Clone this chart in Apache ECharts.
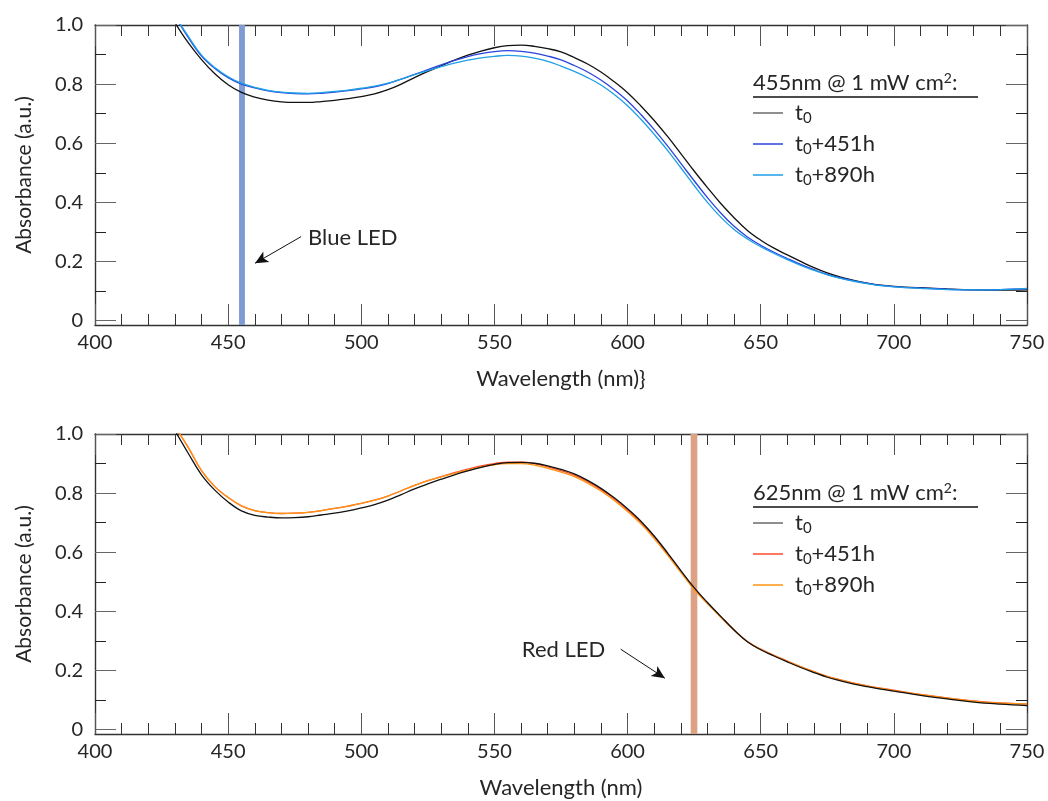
<!DOCTYPE html>
<html>
<head>
<meta charset="utf-8">
<script src="https://cdn.jsdelivr.net/npm/echarts@6/dist/echarts.min.js"></script>
<style>
html,body{margin:0;padding:0;background:#fff;}
#chart{width:1048px;height:801px;}
</style>
</head>
<body>
<div id="chart"></div>
<script>
// ---- data ----
const wavelengths = [430,435,440,445,450,455,460,465,470,475,
  480,485,490,495,500,505,510,515,520,525,
  530,535,540,545,550,555,560,565,570,575,
  580,585,590,595,600,605,610,615,620,625,
  630,635,640,645,650,655,660,665,670,675,
  680,685,690,695,700,710,720,730,740,750];

// Top panel: 455 nm illumination
const blueT0 = [1.008,0.940,0.883,0.835,0.798,0.772,0.756,0.746,0.740,0.738,
  0.738,0.741,0.745,0.751,0.758,0.767,0.781,0.800,0.822,0.843,
  0.862,0.881,0.898,0.912,0.923,0.930,0.932,0.928,0.920,0.909,
  0.890,0.868,0.841,0.808,0.771,0.726,0.677,0.623,0.565,0.506,
  0.450,0.396,0.348,0.305,0.272,0.245,0.222,0.200,0.179,0.161,
  0.147,0.136,0.127,0.120,0.116,0.111,0.107,0.104,0.103,0.104];
const blueT451 = [1.030,0.958,0.895,0.853,0.822,0.800,0.787,0.777,0.771,0.768,
  0.767,0.769,0.773,0.778,0.784,0.791,0.802,0.817,0.833,0.849,
  0.865,0.880,0.893,0.903,0.910,0.913,0.911,0.905,0.895,0.882,
  0.863,0.841,0.814,0.781,0.743,0.697,0.646,0.591,0.532,0.473,
  0.416,0.364,0.319,0.283,0.255,0.231,0.210,0.190,0.172,0.156,
  0.144,0.134,0.126,0.119,0.115,0.110,0.106,0.104,0.105,0.108];
const blueT890 = [1.032,0.962,0.898,0.856,0.825,0.803,0.789,0.779,0.773,0.770,
  0.769,0.771,0.775,0.780,0.786,0.793,0.803,0.817,0.832,0.846,
  0.859,0.871,0.881,0.889,0.894,0.897,0.895,0.888,0.877,0.861,
  0.843,0.822,0.797,0.765,0.727,0.681,0.630,0.576,0.517,0.457,
  0.400,0.350,0.308,0.276,0.250,0.227,0.206,0.187,0.170,0.155,
  0.143,0.133,0.125,0.118,0.114,0.109,0.105,0.104,0.105,0.109];

// Bottom panel: 625 nm illumination
const redT0 = [1.012,0.935,0.862,0.810,0.770,0.740,0.725,0.719,0.716,0.717,
  0.720,0.726,0.732,0.740,0.750,0.761,0.776,0.795,0.814,0.831,
  0.847,0.862,0.875,0.887,0.897,0.903,0.904,0.901,0.892,0.880,
  0.865,0.843,0.816,0.784,0.747,0.705,0.655,0.598,0.538,0.480,
  0.430,0.383,0.337,0.297,0.270,0.249,0.229,0.210,0.193,0.177,
  0.165,0.154,0.145,0.137,0.130,0.116,0.104,0.093,0.086,0.081];
const redT451 = [1.025,0.955,0.876,0.822,0.785,0.757,0.741,0.734,0.731,0.732,
  0.735,0.741,0.748,0.756,0.765,0.776,0.790,0.808,0.826,0.842,
  0.856,0.869,0.881,0.892,0.900,0.905,0.905,0.900,0.889,0.876,
  0.861,0.839,0.812,0.780,0.743,0.701,0.651,0.594,0.535,0.477,
  0.428,0.382,0.337,0.298,0.272,0.251,0.232,0.213,0.196,0.180,
  0.168,0.157,0.148,0.140,0.133,0.119,0.107,0.097,0.090,0.086];
const redT890 = [1.025,0.955,0.876,0.822,0.785,0.757,0.741,0.734,0.731,0.732,
  0.735,0.741,0.748,0.756,0.765,0.776,0.790,0.808,0.826,0.842,
  0.855,0.867,0.878,0.888,0.896,0.900,0.900,0.895,0.884,0.871,
  0.856,0.834,0.807,0.775,0.738,0.696,0.646,0.590,0.532,0.474,
  0.426,0.380,0.336,0.297,0.271,0.250,0.231,0.212,0.195,0.179,
  0.167,0.156,0.147,0.139,0.132,0.118,0.106,0.096,0.089,0.087];

const yMajorTicks = [0, 0.2, 0.4, 0.6, 0.8, 1.0];
const yMinorTicks = [0.1, 0.3, 0.5, 0.7, 0.9];
const xTickInterval = 50;
const ledBlue = [454.1, 456.3];
const ledRed = [623.7, 626.2];

// ---- chart ----
const FONT = 'Lato';
const TXT = '#262626';
const YMIN = -0.015, YMAX = 1.0;
const zip = arr => wavelengths.map((w, i) => [w, arr[i]]);

function xAxes(g, name) {
  const base = {
    type: 'value', gridIndex: g, min: 400, max: 750, interval: xTickInterval,
    axisLine: { show: true, onZero: false, lineStyle: { color: '#333', width: 1.4 } },
    axisTick: { show: true, inside: true, length: 21, lineStyle: { color: '#555', width: 1 } },
    minorTick: { show: true, splitNumber: 5, length: 11, lineStyle: { color: '#333', width: 1 } },
    splitLine: { show: false }, minorSplitLine: { show: false }
  };
  return [
    Object.assign({}, base, {
      position: 'bottom',
      name: name, nameLocation: 'middle', nameGap: 43,
      nameTextStyle: { fontFamily: FONT, fontSize: 22, color: TXT },
      axisLabel: { show: true, margin: 8, fontFamily: FONT, fontSize: 20, color: TXT }
    }),
    Object.assign({}, base, { position: 'top', axisLabel: { show: false } })
  ];
}
function yAxes(g) {
  const common = { type: 'value', gridIndex: g, min: YMIN, max: YMAX, splitLine: { show: false } };
  return [
    Object.assign({}, common, {
      position: 'left',
      name: 'Absorbance (a.u.)', nameLocation: 'middle', nameGap: 60,
      nameTextStyle: { fontFamily: FONT, fontSize: 21, color: TXT },
      axisLine: { show: true, onZero: false, lineStyle: { color: '#333', width: 1.4 } },
      axisTick: { show: true, inside: true, length: 21, customValues: yMajorTicks, lineStyle: { color: '#666', width: 1 } },
      axisLabel: { show: true, customValues: yMajorTicks, margin: 12, fontFamily: FONT, fontSize: 20, color: TXT,
        formatter: v => (Math.abs(v) < 1e-9 ? '0' : v.toFixed(1)) }
    }),
    Object.assign({}, common, {
      position: 'left',
      axisLine: { show: false },
      axisTick: { show: true, inside: true, length: 11, customValues: yMinorTicks, lineStyle: { color: '#222', width: 1 } },
      axisLabel: { show: false }
    }),
    Object.assign({}, common, {
      position: 'right',
      axisLine: { show: true, onZero: false, lineStyle: { color: '#333', width: 1.4 } },
      axisTick: { show: true, inside: true, length: 21, customValues: yMajorTicks, lineStyle: { color: '#666', width: 1 } },
      axisLabel: { show: false }
    }),
    Object.assign({}, common, {
      position: 'right',
      axisLine: { show: false },
      axisTick: { show: true, inside: true, length: 11, customValues: yMinorTicks, lineStyle: { color: '#222', width: 1 } },
      axisLabel: { show: false }
    })
  ];
}

function curve(name, arr, color, g, z) {
  return {
    name: name, type: 'line', xAxisIndex: g * 2, yAxisIndex: g * 4,
    data: zip(arr), showSymbol: false, symbol: 'none', smooth: 0.4, clip: true,
    lineStyle: { color: color, width: 1.3 }, itemStyle: { color: color },
    emphasis: { disabled: true }, z: z, animation: false
  };
}
function annot(g, band, bandColor, arrowFrom, arrowTo, textAt, text) {
  return {
    name: 'annot' + g, type: 'line', xAxisIndex: g * 2, yAxisIndex: g * 4, data: [],
    z: 1, animation: false, silent: true,
    markArea: { silent: true, itemStyle: { color: bandColor }, data: [[{ xAxis: band[0] }, { xAxis: band[1] }]] },
    markLine: {
      silent: true, symbol: ['none', 'arrow'], symbolSize: [9, 13], animation: false,
      lineStyle: { color: '#111', width: 1, type: 'solid' }, label: { show: false },
      data: [[{ coord: arrowFrom }, { coord: arrowTo }]]
    },
    markPoint: {
      silent: true, animation: false,
      data: [{ coord: textAt, symbol: 'circle', symbolSize: 0,
        label: { show: true, position: 'right', distance: 0, formatter: text,
          fontFamily: FONT, fontSize: 22, color: TXT } }]
    }
  };
}

const legendLabels = {
  A0: 't{s|0}', A1: 't{s|0}+451h', A2: 't{s|0}+890h',
  B0: 't{s|0}', B1: 't{s|0}+451h', B2: 't{s|0}+890h'
};
function legend(ids, top) {
  return {
    data: [{ name: ids[0], itemStyle: { color: '#6a6a6a' } }, { name: ids[1] }, { name: ids[2] }],
    orient: 'vertical', left: 753, top: top, padding: 0, icon: 'rect',
    itemWidth: 30, itemHeight: 1.5, itemGap: 5, selectedMode: false,
    formatter: n => legendLabels[n],
    textStyle: { fontFamily: FONT, fontSize: 22, color: TXT, lineHeight: 26, padding: [0, 0, 0, 7],
      rich: { s: { fontFamily: FONT, fontSize: 15, color: TXT, verticalAlign: 'bottom', lineHeight: 26, padding: [9, 0, 0, 0] } } }
  };
}
function legendTitle(text, y) {
  return [
    { type: 'text', x: 753, y: y, silent: true,
      style: { text: text, fill: TXT, font: '22px ' + FONT, verticalAlign: 'middle',
        rich: { sup: { fontSize: 14, fontFamily: FONT, fill: TXT, verticalAlign: 'top', padding: [0, 0, 9, 0] } } } },
    { type: 'line', silent: true, shape: { x1: 753, y1: y + 14, x2: 978, y2: y + 14 },
      style: { stroke: '#111', lineWidth: 1.3 } }
  ];
}

const option = {
  backgroundColor: '#fff',
  animation: false,
  grid: [
    { left: 95, right: 21, top: 25, height: 300, containLabel: false },
    { left: 95, right: 21, top: 434, height: 300, containLabel: false }
  ],
  xAxis: [].concat(xAxes(0, 'Wavelength (nm)}'), xAxes(1, 'Wavelength (nm)')),
  yAxis: [].concat(yAxes(0), yAxes(1)),
  legend: [legend(['A0', 'A1', 'A2'], 100), legend(['B0', 'B1', 'B2'], 510)],
  graphic: [].concat(legendTitle('455nm @ 1 mW cm{sup|2}:', 83), legendTitle('625nm @ 1 mW cm{sup|2}:', 493)),
  series: [
    annot(0, ledBlue, '#7f9bd5', [477.4, 0.284], [460.1, 0.194], [480.0, 0.279], 'Blue LED'),
    curve('A0', blueT0, '#111111', 0, 3),
    curve('A1', blueT451, '#2a45e0', 0, 4),
    curve('A2', blueT890, '#1e9fe6', 0, 5),
    annot(1, ledRed, '#dda283', [597.4, 0.272], [614.0, 0.174], [560.3, 0.269], 'Red LED'),
    curve('B1', redT451, '#ff4a2a', 1, 3),
    curve('B2', redT890, '#ff9412', 1, 4),
    curve('B0', redT0, '#111111', 1, 5)
  ]
};

const chart = echarts.init(document.getElementById('chart'), null, { renderer: 'canvas' });
chart.setOption(option);
</script>
</body>
</html>
